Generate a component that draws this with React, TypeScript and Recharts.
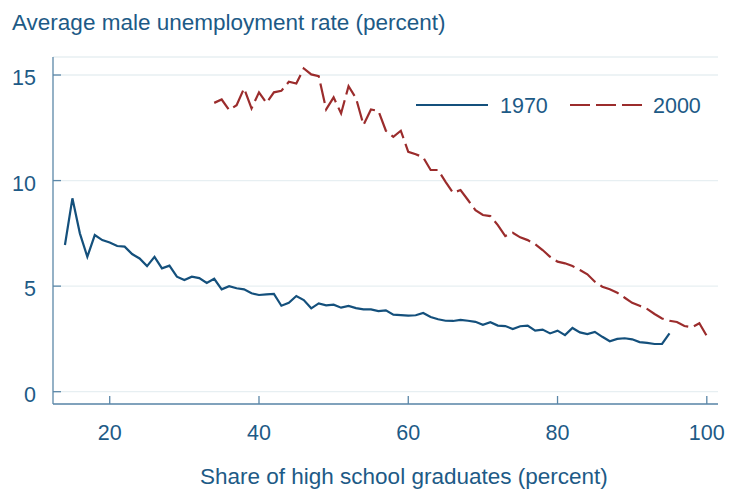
import { CartesianGrid, Legend, Line, LineChart, XAxis, YAxis } from "recharts";

const share1970 = [
  14, 15, 16, 17, 18, 19, 20, 21, 22, 23, 24, 25, 26, 27, 28, 29, 30, 31, 32, 33, 34,
  35, 36, 37, 38, 39, 40, 41, 42, 43, 44, 45, 46, 47, 48, 49, 50, 51, 52, 53, 54, 55,
  56, 57, 58, 59, 60, 61, 62, 63, 64, 65, 66, 67, 68, 69, 70, 71, 72, 73, 74, 75, 76,
  77, 78, 79, 80, 81, 82, 83, 84, 85, 86, 87, 88, 89, 90, 91, 92, 93, 94, 95,
];
const rate1970 = [
  6.95, 9.16, 7.5, 6.39, 7.42, 7.18, 7.07, 6.9, 6.87, 6.52, 6.31, 5.95, 6.39, 5.84, 5.97,
  5.45, 5.29, 5.45, 5.38, 5.15, 5.35, 4.85, 5.0, 4.9, 4.85, 4.66, 4.58, 4.61, 4.63, 4.07,
  4.21, 4.53, 4.34, 3.95, 4.18, 4.09, 4.12, 3.98, 4.06, 3.96, 3.9, 3.9, 3.82, 3.85, 3.65,
  3.63, 3.6, 3.62, 3.73, 3.54, 3.43, 3.36, 3.35, 3.4, 3.36, 3.31, 3.17, 3.29, 3.13, 3.11,
  2.97, 3.1, 3.13, 2.89, 2.94, 2.76, 2.89, 2.68, 3.02, 2.81, 2.73, 2.83, 2.6, 2.39, 2.5,
  2.53, 2.48, 2.35, 2.31, 2.26, 2.26, 2.76,
];

const share2000 = [
  34, 35, 36, 37, 38, 39, 40, 41, 42, 43, 44, 45, 46, 47, 48, 49, 50, 51, 52, 53, 54,
  55, 56, 57, 58, 59, 60, 61, 62, 63, 64, 65, 66, 67, 68, 69, 70, 71, 72, 73, 74, 75,
  76, 77, 78, 79, 80, 81, 82, 83, 84, 85, 86, 87, 88, 89, 90, 91, 92, 93, 94, 95, 96,
  97, 98, 99, 100,
];
const rate2000 = [
  13.68, 13.84, 13.34, 13.57, 14.37, 13.42, 14.18, 13.68, 14.18, 14.25, 14.68, 14.6,
  15.31, 15.03, 14.95, 13.37, 13.94, 13.18, 14.47, 13.9, 12.63, 13.37, 13.3, 12.36,
  12.07, 12.36, 11.36, 11.25, 11.1, 10.5, 10.5, 9.94, 9.42, 9.55, 9.08, 8.6, 8.37, 8.32,
  7.89, 7.37, 7.53, 7.31, 7.18, 6.99, 6.71, 6.39, 6.16, 6.08, 5.95, 5.76, 5.56, 5.21,
  4.97, 4.85, 4.69, 4.45, 4.21, 4.07, 3.92, 3.68, 3.47, 3.36, 3.3, 3.11, 3.05, 3.24, 2.64,
];

const xTicks = [20, 40, 60, 80, 100];
const yTicks = [0, 5, 10, 15];

const BLUE = "#14507c";
const RED = "#9b2c2c";
const TEXT = "#1d5a86";
const AXIS = "#5b87a8";
const FONT = "'Liberation Sans', Arial, sans-serif";

const data1970 = share1970.map((share, i) => ({ share, rate: rate1970[i] }));
const data2000 = share2000.map((share, i) => ({ share, rate: rate2000[i] }));

function XTick({ x, y, payload }: any) {
  return (
    <g>
      <line x1={x} x2={x} y1={y} y2={y - 8} stroke={AXIS} strokeWidth={1.3} />
      <text x={x} y={y + 36} textAnchor="middle" fill={TEXT} fontSize={21.5} fontFamily={FONT}>
        {payload.value}
      </text>
    </g>
  );
}

function YTick({ x, y, payload }: any) {
  return (
    <g>
      <line x1={x} x2={x + 8} y1={y} y2={y} stroke={AXIS} strokeWidth={1.3} />
      <text x={x - 17} y={y + 10} textAnchor="end" fill={TEXT} fontSize={21.5} fontFamily={FONT}>
        {payload.value}
      </text>
    </g>
  );
}

function LegendBox() {
  return (
    <svg width={300} height={30} style={{ display: "block" }}>
      <line x1={6} x2={78} y1={15} y2={15} stroke={BLUE} strokeWidth={2.2} />
      <text x={90} y={22.5} fill={TEXT} fontSize={21.5} fontFamily={FONT}>
        1970
      </text>
      <line x1={160} x2={232} y1={15} y2={15} stroke={RED} strokeWidth={2.2} strokeDasharray="20 6" />
      <text x={243} y={22.5} fill={TEXT} fontSize={21.5} fontFamily={FONT}>
        2000
      </text>
    </svg>
  );
}

export default function App() {
  return (
    <div style={{ position: "absolute", left: 0, top: 0, width: 730, height: 490, background: "#fff" }}>
      <LineChart width={730} height={490} margin={{ top: 57, right: 12, bottom: 0, left: 0 }}>
        <CartesianGrid vertical={false} stroke="#e7eff2" strokeWidth={1.3} />
        <XAxis
          type="number"
          dataKey="share"
          domain={[12.4, 101.5]}
          ticks={xTicks}
          interval={0}
          allowDataOverflow
          height={86}
          tickSize={0}
          tickMargin={0}
          tick={<XTick />}
          stroke={AXIS}
          strokeWidth={1.3}
        />
        <YAxis
          type="number"
          domain={[-0.583, 15.853]}
          ticks={yTicks}
          interval={0}
          allowDataOverflow
          width={53}
          tickSize={0}
          tickMargin={0}
          tick={<YTick />}
          stroke={AXIS}
          strokeWidth={1.3}
        />
        <Legend
          layout="vertical"
          verticalAlign="middle"
          align="center"
          content={() => <LegendBox />}
          wrapperStyle={{ left: 410, top: 90, width: 300 }}
        />
        <Line
          data={data1970}
          dataKey="rate"
          name="1970"
          type="linear"
          stroke={BLUE}
          strokeWidth={2.2}
          dot={false}
          isAnimationActive={false}
        />
        <Line
          data={data2000}
          dataKey="rate"
          name="2000"
          type="linear"
          stroke={RED}
          strokeWidth={2.2}
          strokeDasharray="20 6"
          dot={false}
          isAnimationActive={false}
        />
      </LineChart>
      <svg width={730} height={490} style={{ position: "absolute", left: 0, top: 0, pointerEvents: "none" }}>
        <text x={12} y={30} fill={TEXT} fontSize={22.5} fontFamily={FONT}>
          Average male unemployment rate (percent)
        </text>
        <text x={200} y={484} fill={TEXT} fontSize={22.5} fontFamily={FONT}>
          Share of high school graduates (percent)
        </text>
      </svg>
    </div>
  );
}
